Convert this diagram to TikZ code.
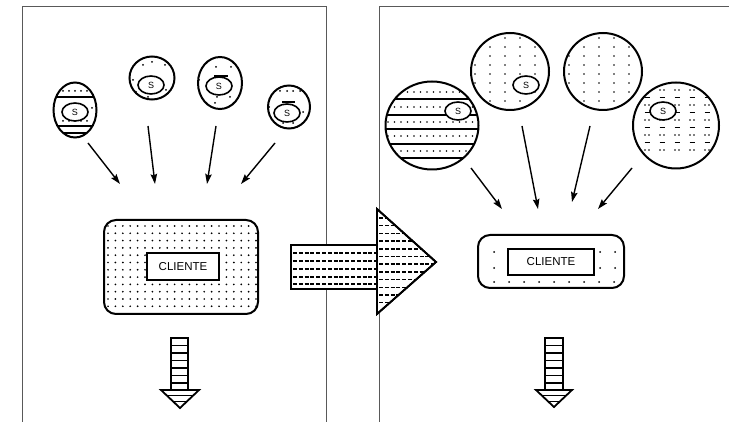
\documentclass[tikz,border=0pt]{standalone}
\usepackage{fontspec}
\setmainfont{Liberation Sans}
\usetikzlibrary{shapes.geometric,arrows.meta}
\begin{document}
\begin{tikzpicture}[x=1pt,y=-1pt,
  panel/.style={draw=black!65,line width=0.6pt},
  cell/.style={ellipse,draw,line width=2pt,inner sep=0pt},
  snode/.style={ellipse,draw,fill=white,line width=1.6pt,inner sep=0pt,minimum width=26pt,minimum height=18pt,font=\fontsize{9}{9}\selectfont},
  feed/.style={line width=1.4pt,-{Stealth[length=10pt,width=6.5pt,inset=1.5pt]}},
  stripe/.style={line width=1.8pt},
  thinstripe/.style={line width=1.2pt},
  dashline/.style={line width=1.5pt,dash pattern=on 4pt off 1.8pt},
  boxout/.style={draw,rounded corners=12pt,line width=2pt,inner sep=0pt},
  clientbox/.style={draw,fill=white,line width=1.7pt,inner sep=0pt,font=\fontsize{11.5}{11.5}\selectfont},
  bigarrow/.style={draw,fill=white,line width=1.8pt,line join=miter}
]
\useasboundingbox (0,0) rectangle (729,422);
% panels
\draw[panel] (22,422) -- (22,6) -- (326,6) -- (326,422);
\draw[panel] (379,422) -- (379,6) -- (729,6);

% ---------------- left panel cells ----------------
\begin{scope}
\clip (75,110) ellipse [x radius=21.5,y radius=27.5];
\foreach \y in {97,126,133} \draw[stripe] (50,\y) -- (100,\y);
\foreach \x in {63,69,...,90} {\fill (\x,91) circle[radius=1]; \fill (\x,121) circle[radius=1];}
\fill (92,108) circle[radius=1];
\end{scope}
\node[cell,minimum width=43pt,minimum height=55pt] (e1) at (75,110) {};
\node[snode] (s1) at (75,112) {S};

\begin{scope}
\clip (152,78) ellipse [x radius=22.5,y radius=21.5];
\foreach \p in {(143,65),(165,65),(152,62),(133,80),(148,97),(166,90),(136,92)} \fill \p circle[radius=1];
\end{scope}
\node[cell,minimum width=45pt,minimum height=43pt] (e2) at (152,78) {};
\node[snode] (s2) at (151,85) {S};

\begin{scope}
\clip (220,83) ellipse [x radius=22,y radius=26];
\foreach \p in {(216,67),(231,67),(199,80),(217,97),(230,97),(215,103),(230,106)} \fill \p circle[radius=1];
\draw[stripe] (214,76) -- (228,76);
\end{scope}
\node[cell,minimum width=44pt,minimum height=52pt] (e3) at (220,83) {};
\node[snode] (s3) at (219,86) {S};

\begin{scope}
\clip (289,107) ellipse [x radius=21,y radius=21.5];
\foreach \p in {(280,91),(287,91),(293,91),(300,91),(269,107),(283,123),(293,123),(303,112)} \fill \p circle[radius=1];
\draw[stripe] (282,102) -- (295,102);
\end{scope}
\node[cell,minimum width=42pt,minimum height=43pt] (e4) at (289,107) {};
\node[snode] (s4) at (287,113) {S};

% left feeds
\coordinate (a1s) at (88,143);  \coordinate (a1e) at (120,184);
\coordinate (a2s) at (148,126); \coordinate (a2e) at (155,184);
\coordinate (a3s) at (216,126); \coordinate (a3e) at (207,184);
\coordinate (a4s) at (275,143); \coordinate (a4e) at (241,184);
\foreach \i in {1,2,3,4} \draw[feed] (a\i s) -- (a\i e);

% left client box
\begin{scope}
\clip[rounded corners=12pt] (104,220) rectangle (258,314);
\foreach \x in {108,115.4,...,257} \foreach \y in {226,233.3,...,312} \fill (\x,\y) circle[radius=0.95];
\end{scope}
\node[boxout,minimum width=154pt,minimum height=94pt] (bx1) at (181,267) {};
\node[clientbox,minimum width=72pt,minimum height=27pt] (cl1) at (183,266.5) {CLIENTE};

% left down arrow
\begin{scope}
\clip (161,390) -- (199,390) -- (180,408) -- cycle;
\foreach \y in {395.5,401.5} \draw[thinstripe] (150,\y) -- (210,\y);
\end{scope}
\foreach \y in {345.5,353,...,387} \draw[thinstripe] (171,\y) -- (188,\y);
\draw[line width=1.8pt,line join=miter] (171,390) -- (171,338) -- (188,338) -- (188,390);
\draw[line width=1.8pt,line join=miter] (161,390) -- (199,390) -- (180,408) -- cycle;

% ---------------- big transition arrow ----------------
\draw[bigarrow] (291,245) rectangle (377,289);
\begin{scope}
\clip (291,245) rectangle (377,289);
\foreach \y in {253,261,269,277,284} \draw[dashline] (293,\y) -- (376,\y);
\end{scope}
\draw[bigarrow] (377,209) -- (436,262) -- (377,314) -- cycle;
\begin{scope}
\clip (377,209) -- (436,262) -- (377,314) -- cycle;
\foreach \y in {218,225.7,...,308} \draw[dashline] (379,\y) -- (436,\y);
\end{scope}
\draw[line width=1.8pt,line join=miter] (377,209) -- (436,262) -- (377,314) -- cycle;

% ---------------- right panel cells ----------------
\begin{scope}
\clip (432,125.5) ellipse [x radius=46.5,y radius=44];
\foreach \y in {99,115,129,144,158} \draw[stripe] (380,\y) -- (485,\y);
\foreach \y in {92,107,122,136,151} \foreach \x in {388,394.5,...,478} \fill (\x,\y) circle[radius=0.95];
\end{scope}
\node[cell,minimum width=93pt,minimum height=88pt] (c1) at (432,125.5) {};
\node[snode] (s5) at (458,111) {S};

\begin{scope}
\clip (510,71.5) ellipse [x radius=39,y radius=38.5];
\foreach \x in {475,490,...,546} \foreach \y in {38,47,...,110} \fill (\x,\y) circle[radius=0.95];
\end{scope}
\node[cell,minimum width=78pt,minimum height=77pt] (c2) at (510,71.5) {};
\node[snode] (s6) at (526,85) {S};

\begin{scope}
\clip (603,71.5) ellipse [x radius=39,y radius=38.5];
\foreach \x in {569,584,...,641} \foreach \y in {38,47,...,110} \fill (\x,\y) circle[radius=0.95];
\end{scope}
\node[cell,minimum width=78pt,minimum height=77pt] (c3) at (603,71.5) {};

\begin{scope}
\clip (676,125.5) ellipse [x radius=43,y radius=43];
\foreach \x in {647,662,...,708} {
  \foreach \y in {90,105,120,135,150} {\fill (\x-2,\y) circle[radius=0.95]; \fill (\x+2,\y) circle[radius=0.95];}
  \foreach \y in {97.5,112.5,127.5,142.5} \draw[line width=1.6pt] (\x-2.5,\y) -- (\x+2.5,\y);
}
\end{scope}
\node[cell,minimum width=86pt,minimum height=86pt] (c4) at (676,125.5) {};
\node[snode] (s7) at (663,111) {S};

% right feeds
\coordinate (b1s) at (471,168); \coordinate (b1e) at (502,209);
\coordinate (b2s) at (522,126); \coordinate (b2e) at (538,209);
\coordinate (b3s) at (590,126); \coordinate (b3e) at (572,202);
\coordinate (b4s) at (632,168); \coordinate (b4e) at (598,209);
\foreach \i in {1,2,3,4} \draw[feed] (b\i s) -- (b\i e);

% right client box
\foreach \y in {252,268} {\fill (494,\y) circle[radius=1]; \fill (600,\y) circle[radius=1]; \fill (615,\y) circle[radius=1];}
\foreach \x in {494,509,...,616} \fill (\x,282) circle[radius=1];
\node[boxout,minimum width=146pt,minimum height=53pt] (bx2) at (551,261.5) {};
\node[clientbox,minimum width=86pt,minimum height=26pt] (cl2) at (551,262) {CLIENTE};

% right down arrow
\begin{scope}
\clip (536,390) -- (572,390) -- (554,407) -- cycle;
\foreach \y in {395.5,401.5} \draw[thinstripe] (530,\y) -- (580,\y);
\end{scope}
\foreach \y in {345.5,353,...,387} \draw[thinstripe] (545,\y) -- (563,\y);
\draw[line width=1.8pt,line join=miter] (545,390) -- (545,338) -- (563,338) -- (563,390);
\draw[line width=1.8pt,line join=miter] (536,390) -- (572,390) -- (554,407) -- cycle;
\end{tikzpicture}
\end{document}
